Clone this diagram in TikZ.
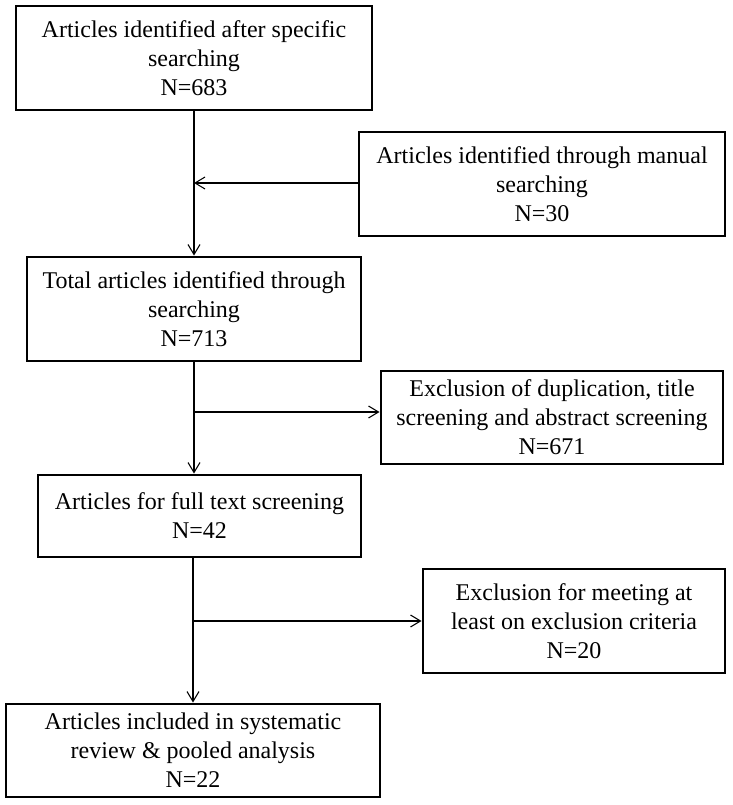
\documentclass[tikz,border=0pt]{standalone}
\usepackage{fontspec}
\setmainfont{Liberation Serif}
\usepackage{tikz}
\usetikzlibrary{arrows.meta}

\tikzset{
  stagebox/.style={draw, line width=2.2pt, inner sep=0pt, align=center,
    font=\fontsize{18}{21.8}\selectfont},
  flowline/.style={line width=0.8pt},
  flowarrow/.style={flowline, -{Straight Barb[length=7.5pt,width=9pt,line width=0.8pt]}}
}

\begin{document}
\begin{tikzpicture}[x=0.75pt,y=0.75pt,yscale=-1,xscale=1]
\useasboundingbox (0,0) rectangle (732,805);

%Shape: Rectangle [specific searching]
\node[stagebox, minimum width=356*0.75pt, minimum height=104*0.75pt] (specific) at (194,58)
  {Articles identified after specific\\searching\\N=683};
%Shape: Rectangle [manual searching]
\node[stagebox, minimum width=366*0.75pt, minimum height=104*0.75pt] (manual) at (542,184)
  {Articles identified through manual\\searching\\N=30};
%Shape: Rectangle [total]
\node[stagebox, minimum width=334*0.75pt, minimum height=104*0.75pt] (total) at (194,309)
  {Total articles identified through\\searching\\N=713};
%Shape: Rectangle [duplication]
\node[stagebox, minimum width=342*0.75pt, minimum height=93*0.75pt] (duplic) at (552,417.5)
  {Exclusion of duplication, title\\screening and abstract screening\\N=671};
%Shape: Rectangle [full text]
\node[stagebox, minimum width=323*0.75pt, minimum height=82*0.75pt] (fulltext) at (199.5,516)
  {Articles for full text screening\\N=42};
%Shape: Rectangle [criteria]
\node[stagebox, minimum width=302*0.75pt, minimum height=104*0.75pt] (criteria) at (574,621)
  {Exclusion for meeting at\\least on exclusion criteria\\N=20};
%Shape: Rectangle [included]
\node[stagebox, minimum width=374*0.75pt, minimum height=93*0.75pt] (included) at (193,750.5)
  {Articles included in systematic\\review \& pooled analysis\\N=22};

%Straight Lines [branch points]
\coordinate (jmanual) at (194,183);
\coordinate (jdup) at (194,412);
\coordinate (jcrit) at (193,621);

%Straight Lines [main flow]
\draw[flowarrow] (specific.south -| jmanual) -- (total.north -| jmanual);
\draw[flowarrow] (manual.west |- jmanual) -- (jmanual);
\draw[flowarrow] (total.south -| jdup) -- (fulltext.north -| jdup);
\draw[flowarrow] (jdup) -- (jdup -| duplic.west);
\draw[flowarrow] (fulltext.south -| jcrit) -- (included.north -| jcrit);
\draw[flowarrow] (jcrit) -- (criteria.west);

\end{tikzpicture}
\end{document}
